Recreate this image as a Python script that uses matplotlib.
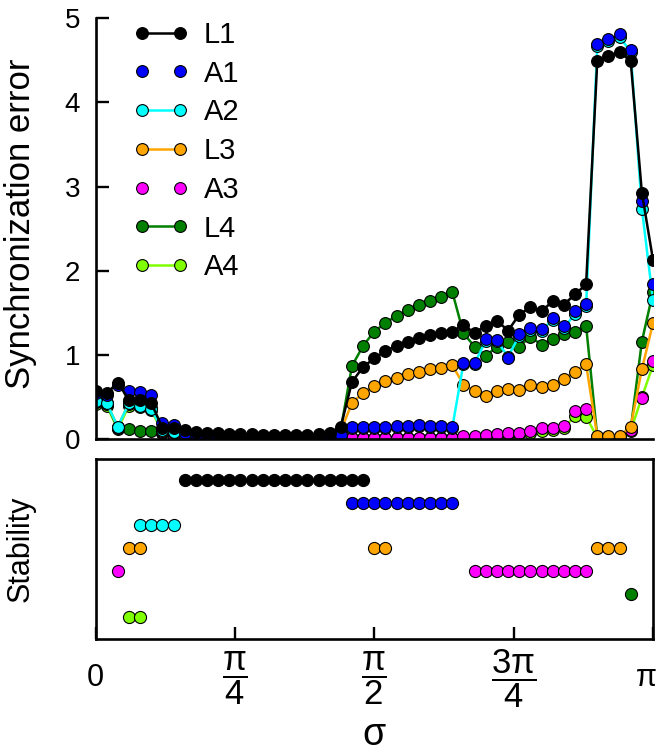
import numpy as np
import matplotlib
matplotlib.use('Agg')
import matplotlib.pyplot as plt
from matplotlib.transforms import ScaledTranslation

plt.rcParams['font.family'] = ['Liberation Sans', 'DejaVu Sans']
plt.rcParams['mathtext.fontset'] = 'custom'
plt.rcParams['mathtext.rm'] = 'Liberation Sans'
plt.rcParams['mathtext.it'] = 'Liberation Sans:italic'
plt.rcParams['mathtext.bf'] = 'Liberation Sans:bold'

# sigma grid: 51 samples from 0 to pi
sigma = np.linspace(0, np.pi, 51)

names = ['L1', 'A1', 'A2', 'L3', 'A3', 'L4', 'A4']
colors = ['black', '#0000ff', '#00ffff', '#ffa500', '#ff00ff', '#007f00', '#80ff00']
has_line = [True, False, True, True, False, True, True]

L1 = [0.57, 0.55, 0.67, 0.47, 0.47, 0.43, 0.14, 0.13, 0.11, 0.09,
      0.08, 0.07, 0.06, 0.06, 0.06, 0.05, 0.05, 0.05, 0.05, 0.05,
      0.06, 0.07, 0.15, 0.68, 0.86, 0.96, 1.05, 1.11, 1.16, 1.20,
      1.24, 1.26, 1.28, 1.36, 1.26, 1.35, 1.41, 1.29, 1.48, 1.57,
      1.52, 1.64, 1.60, 1.72, 1.84, 4.49, 4.55, 4.60, 4.49, 2.93, 2.13]
A1 = [0.55, 0.53, 0.64, 0.57, 0.56, 0.53, 0.19, 0.17, 0.07, 0.05,
      0.04, 0.04, 0.04, 0.04, 0.04, 0.04, 0.04, 0.04, 0.04, 0.04,
      0.04, 0.04, 0.05, 0.15, 0.15, 0.15, 0.15, 0.16, 0.16, 0.17,
      0.16, 0.16, 0.15, 0.91, 0.91, 1.19, 1.18, 0.96, 1.25, 1.32,
      1.31, 1.44, 1.34, 1.52, 1.61, 4.69, 4.75, 4.81, 4.62, 2.83, 1.85]
A2 = [0.46, 0.43, 0.15, 0.43, 0.40, 0.36, 0.11, 0.09, 0.05, 0.03,
      0.03, 0.03, 0.03, 0.03, 0.03, 0.03, 0.03, 0.03, 0.03, 0.03,
      0.03, 0.03, 0.05, 0.14, 0.14, 0.14, 0.14, 0.15, 0.15, 0.16,
      0.15, 0.15, 0.14, 0.90, 0.90, 1.17, 1.17, 0.98, 1.23, 1.30,
      1.29, 1.42, 1.32, 1.49, 1.58, 4.67, 4.73, 4.78, 4.60, 2.74, 1.65]
L3 = [0.45, 0.43, 0.15, 0.43, 0.41, 0.37, 0.10, 0.08, 0.04, 0.04,
      0.04, 0.04, 0.04, 0.04, 0.04, 0.04, 0.04, 0.04, 0.04, 0.04,
      0.04, 0.04, 0.10, 0.43, 0.55, 0.63, 0.69, 0.73, 0.77, 0.80,
      0.83, 0.85, 0.88, 0.65, 0.57, 0.51, 0.57, 0.60, 0.59, 0.64,
      0.62, 0.65, 0.72, 0.80, 0.89, 0.04, 0.04, 0.04, 0.15, 0.83, 1.38]
A3 = [0.44, 0.42, 0.14, 0.42, 0.40, 0.36, 0.09, 0.03, 0.03, 0.03,
      0.03, 0.03, 0.03, 0.03, 0.03, 0.03, 0.03, 0.03, 0.03, 0.03,
      0.03, 0.03, 0.03, 0.02, 0.02, 0.02, 0.02, 0.02, 0.02, 0.02,
      0.02, 0.02, 0.02, 0.04, 0.04, 0.05, 0.06, 0.08, 0.08, 0.10,
      0.13, 0.14, 0.16, 0.34, 0.36, 0.03, 0.03, 0.03, 0.11, 0.49, 0.93]
L4 = [0.44, 0.42, 0.13, 0.12, 0.10, 0.10, 0.08, 0.06, 0.03, 0.03,
      0.03, 0.03, 0.03, 0.03, 0.03, 0.03, 0.03, 0.03, 0.03, 0.03,
      0.03, 0.03, 0.12, 0.87, 1.11, 1.28, 1.38, 1.47, 1.53, 1.59,
      1.64, 1.69, 1.75, 1.26, 1.10, 0.99, 1.10, 1.15, 1.10, 1.22,
      1.12, 1.19, 1.25, 1.28, 1.35, 0.03, 0.03, 0.03, 0.12, 1.16, 1.75]
A4 = [0.42, 0.40, 0.12, 0.40, 0.38, 0.35, 0.08, 0.03, 0.02, 0.02,
      0.02, 0.02, 0.02, 0.02, 0.02, 0.02, 0.02, 0.02, 0.02, 0.02,
      0.02, 0.02, 0.02, 0.02, 0.02, 0.02, 0.02, 0.02, 0.02, 0.02,
      0.02, 0.02, 0.02, 0.03, 0.03, 0.04, 0.05, 0.06, 0.06, 0.08,
      0.10, 0.11, 0.13, 0.28, 0.27, 0.02, 0.02, 0.02, 0.10, 0.50, 0.88]
errors = [L1, A1, A2, L3, A3, L4, A4]

# stability panel: indices of sigma samples where each pattern is stable
stab_L1 = list(range(8, 25))
stab_A1 = list(range(23, 33))
stab_A2 = [4, 5, 6, 7]
stab_L3 = [3, 4, 25, 26, 45, 46, 47]
stab_A3 = [2] + list(range(34, 45))
stab_L4 = [48]
stab_A4 = [3, 4]
stab = [stab_L1, stab_A1, stab_A2, stab_L3, stab_A3, stab_L4, stab_A4]
levels = [7, 6, 5, 4, 3, 2, 1]

fig = plt.figure(figsize=(6.6, 7.53), dpi=100)
ax1 = fig.add_axes([0.1447, 0.4166, 0.8447, 0.5592])
ax2 = fig.add_axes([0.1447, 0.1510, 0.8447, 0.2390])

handles = [None] * len(names)
for i in reversed(range(len(names))):
    ls = '-' if has_line[i] else 'none'
    h, = ax1.plot(sigma, errors[i], linestyle=ls, color=colors[i], lw=1.8,
                  marker='o', ms=8.5, mfc=colors[i], mec='black', mew=0.8,
                  label=names[i])
    handles[i] = h
    ax2.plot(sigma[stab[i]], [levels[i]] * len(stab[i]), linestyle='none',
             marker='o', ms=8.7, mfc=colors[i], mec='black', mew=0.8)

ax1.set_xlim(0, np.pi)
ax1.set_ylim(0, 5)
ax1.set_yticks([0, 1, 2, 3, 4, 5])
ax1.set_xticks([])
ax1.spines['top'].set_visible(False)
ax1.spines['right'].set_visible(False)
for s in ['left', 'bottom']:
    ax1.spines[s].set_linewidth(1.9)
ax1.tick_params(axis='y', direction='in', length=9.5, width=1.7,
                labelsize=20, pad=11)

ax1.legend(handles=handles, loc='upper left', bbox_to_anchor=(0.067, 0.994),
           frameon=False, numpoints=2, fontsize=21, handlelength=1.9,
           handletextpad=0.52, labelspacing=0.37, borderpad=0, borderaxespad=0)

ax2.set_xlim(0, np.pi)
ax2.set_ylim(0, 7.9)
ax2.set_yticks([])
ax2.set_xticks([0, np.pi / 4, np.pi / 2, 3 * np.pi / 4, np.pi])
ax2.set_xticklabels(['0', r'$\dfrac{\mathrm{π}}{4}$', r'$\dfrac{\mathrm{π}}{2}$',
                     r'$\dfrac{3\mathrm{π}}{4}$', 'π'])
for s in ax2.spines.values():
    s.set_linewidth(1.9)
ax2.tick_params(axis='x', direction='in', length=9, width=1.7,
                labelsize=22, pad=28)
xlabels = ax2.get_xticklabels()
for lbl in xlabels:
    lbl.set_verticalalignment('center')
for lbl in xlabels[1:4]:
    lbl.set_fontsize(25)
# keep the last label inside the figure
xlabels[-1].set_transform(xlabels[-1].get_transform()
                          + ScaledTranslation(-0.07, 0, fig.dpi_scale_trans))

fig.text(21 / 660, 1 - 224 / 753, 'Synchronization error', rotation=90,
         ha='center', va='center', fontsize=25)
fig.text(21 / 660, 1 - 549 / 753, 'Stability', rotation=90,
         ha='center', va='center', fontsize=22)
fig.text(374 / 660, 1 - 735 / 753, 'σ', ha='center', va='center', fontsize=27)

fig.savefig('out.png', dpi=100)
